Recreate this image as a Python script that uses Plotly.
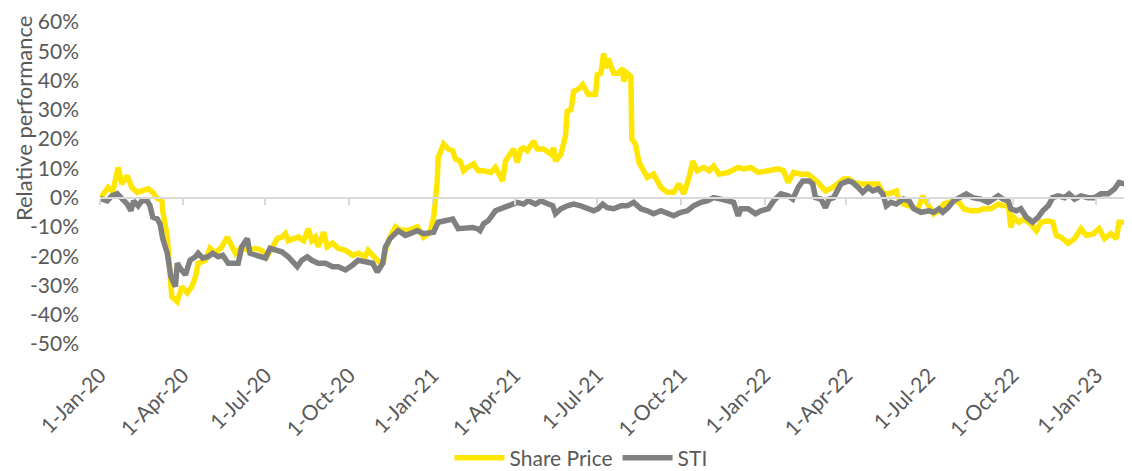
import plotly.graph_objects as go

# ---- Data (relative performance, %) ----
share_dates = [
    "2020-01-01","2020-01-03","2020-01-10","2020-01-15","2020-01-21","2020-01-25","2020-01-31","2020-02-05",
    "2020-02-11","2020-02-16","2020-02-23","2020-02-28","2020-03-04","2020-03-09","2020-03-10","2020-03-15",
    "2020-03-18","2020-03-20","2020-03-26","2020-03-31","2020-04-06","2020-04-11","2020-04-15","2020-04-18",
    "2020-04-26","2020-05-01","2020-05-07","2020-05-14","2020-05-20","2020-05-25","2020-05-29","2020-06-05",
    "2020-06-12","2020-06-20","2020-06-27","2020-07-03","2020-07-08","2020-07-14","2020-07-19","2020-07-23",
    "2020-07-26","2020-08-03","2020-08-06","2020-08-12","2020-08-17","2020-08-21","2020-08-25","2020-08-28",
    "2020-09-03","2020-09-07","2020-09-13","2020-09-19","2020-09-27","2020-10-05","2020-10-11","2020-10-19",
    "2020-10-22","2020-10-30","2020-11-07","2020-11-10","2020-11-15","2020-11-21","2020-11-26","2020-12-04",
    "2020-12-15","2020-12-22","2020-12-29","2021-01-02","2021-01-06","2021-01-07","2021-01-13","2021-01-18",
    "2021-01-23","2021-01-26","2021-01-31","2021-02-04","2021-02-08","2021-02-15","2021-02-20","2021-02-26",
    "2021-03-06","2021-03-11","2021-03-14","2021-03-19","2021-03-22","2021-03-28","2021-03-31","2021-04-04",
    "2021-04-08","2021-04-11","2021-04-15","2021-04-22","2021-04-26","2021-05-03","2021-05-11","2021-05-14",
    "2021-05-16","2021-05-22","2021-05-24","2021-05-27","2021-05-29","2021-06-02","2021-06-05","2021-06-10",
    "2021-06-15","2021-06-18","2021-06-21","2021-06-29","2021-07-01","2021-07-05","2021-07-08","2021-07-10",
    "2021-07-13","2021-07-19","2021-07-24","2021-07-29","2021-07-30","2021-08-03","2021-08-07","2021-08-08",
    "2021-08-12","2021-08-16","2021-08-21","2021-08-25","2021-09-01","2021-09-09","2021-09-16","2021-09-23",
    "2021-09-29","2021-10-04","2021-10-10","2021-10-14","2021-10-19","2021-10-26","2021-11-01","2021-11-06",
    "2021-11-12","2021-11-22","2021-12-03","2021-12-09","2021-12-17","2021-12-25","2022-01-05","2022-01-16",
    "2022-01-22","2022-01-27","2022-02-02","2022-02-10","2022-02-18","2022-02-23","2022-03-01","2022-03-04",
    "2022-03-09","2022-03-17","2022-03-24","2022-03-29","2022-04-04","2022-04-09","2022-04-17","2022-04-28",
    "2022-05-06","2022-05-11","2022-05-18","2022-05-26","2022-05-28","2022-06-03","2022-06-11","2022-06-19",
    "2022-06-24","2022-06-30","2022-07-06","2022-07-12","2022-07-17","2022-07-23","2022-07-28","2022-08-03",
    "2022-08-08","2022-08-16","2022-08-24","2022-08-30","2022-09-07","2022-09-15","2022-09-20","2022-09-26",
    "2022-09-29","2022-10-02","2022-10-08","2022-10-13","2022-10-21","2022-10-27","2022-11-01","2022-11-09",
    "2022-11-14","2022-11-18","2022-11-23","2022-12-01","2022-12-08","2022-12-15","2022-12-21","2022-12-29",
    "2023-01-04","2023-01-10","2023-01-17","2023-01-23","2023-01-26","2023-02-03","2023-02-06",
]
share_values = [
    0.0, 0.5, 3.5, 2.0, 10.3, 4.7, 7.5, 3.5,
    1.8, 2.3, 3.0, 1.8, -0.3, -1.0, -4.5, -13.5,
    -27.0, -33.8, -35.5, -30.4, -32.5, -30.4, -27.0, -22.4,
    -21.4, -17.3, -19.0, -16.8, -13.5, -16.8, -19.0, -16.8,
    -18.0, -17.3, -18.0, -20.0, -17.3, -14.0, -13.5, -12.3,
    -14.7, -14.0, -13.5, -14.7, -10.6, -14.7, -13.5, -16.8,
    -11.8, -16.8, -15.6, -17.3, -18.0, -19.7, -19.0, -20.0,
    -18.0, -20.7, -23.0, -18.0, -13.5, -10.0, -11.0, -11.3,
    -10.0, -13.5, -12.0, -6.7, 5.7, 13.7, 18.3, 16.6,
    16.0, 13.2, 12.5, 9.2, 10.3, 11.5, 9.2, 9.2,
    8.6, 10.3, 8.6, 5.7, 12.5, 14.8, 16.6, 12.0,
    16.6, 17.0, 16.0, 19.3, 16.6, 16.6, 14.8, 17.0,
    12.5, 14.8, 18.3, 21.0, 29.5, 30.0, 36.3, 37.0,
    38.6, 37.0, 35.3, 35.3, 42.0, 42.5, 49.3, 44.2,
    47.5, 42.5, 42.5, 44.2, 39.7, 42.5, 41.4, 20.0,
    18.3, 12.0, 8.6, 6.9, 8.0, 3.5, 1.8, 1.8,
    4.7, 1.3, 6.9, 12.5, 9.2, 10.3, 9.2, 10.8,
    8.0, 8.6, 10.3, 9.8, 10.3, 8.6, 9.2, 9.8,
    9.2, 5.2, 8.6, 8.0, 8.0, 6.9, 5.2, 4.0,
    2.3, 3.5, 5.2, 6.4, 6.4, 5.2, 4.7, 4.7,
    4.7, 1.8, 1.3, 2.3, 0.0, -2.2, -2.8, -3.8,
    0.6, -2.2, -5.5, -4.5, -2.2, -1.6, -1.1, -1.6,
    -3.8, -4.5, -4.5, -3.8, -3.8, -2.2, -2.8, -2.2,
    -10.2, -6.7, -8.4, -7.3, -9.0, -11.3, -8.4, -7.9,
    -8.4, -12.9, -13.5, -15.6, -14.0, -10.6, -12.9, -12.3,
    -10.6, -14.0, -12.3, -14.0, -8.4, -8.4, -9.6,
]

sti_dates = [
    "2020-01-01","2020-01-03","2020-01-09","2020-01-14","2020-01-20","2020-01-25","2020-01-31","2020-02-04",
    "2020-02-07","2020-02-12","2020-02-16","2020-02-22","2020-02-25","2020-02-28","2020-03-04","2020-03-07",
    "2020-03-10","2020-03-15","2020-03-19","2020-03-24","2020-03-26","2020-03-29","2020-04-04","2020-04-09",
    "2020-04-15","2020-04-18","2020-04-23","2020-04-29","2020-05-04","2020-05-10","2020-05-15","2020-05-21",
    "2020-05-26","2020-06-01","2020-06-05","2020-06-11","2020-06-14","2020-06-20","2020-06-25","2020-07-01",
    "2020-07-06","2020-07-12","2020-07-19","2020-07-26","2020-08-05","2020-08-10","2020-08-16","2020-08-21",
    "2020-08-28","2020-09-05","2020-09-13","2020-09-19","2020-09-27","2020-10-05","2020-10-11","2020-10-19",
    "2020-10-27","2020-11-01","2020-11-07","2020-11-10","2020-11-15","2020-11-24","2020-12-02","2020-12-07",
    "2020-12-15","2020-12-22","2021-01-02","2021-01-07","2021-01-15","2021-01-23","2021-01-29","2021-02-06",
    "2021-02-14","2021-02-19","2021-02-22","2021-02-26","2021-03-03","2021-03-11","2021-03-19","2021-03-25",
    "2021-04-04","2021-04-11","2021-04-16","2021-04-24","2021-04-30","2021-05-07","2021-05-13","2021-05-16",
    "2021-05-22","2021-05-29","2021-06-05","2021-06-13","2021-06-20","2021-06-27","2021-07-02","2021-07-07",
    "2021-07-12","2021-07-19","2021-07-27","2021-08-03","2021-08-10","2021-08-18","2021-08-25","2021-09-01",
    "2021-09-09","2021-09-16","2021-09-23","2021-10-01","2021-10-08","2021-10-15","2021-10-23","2021-10-30",
    "2021-11-06","2021-11-14","2021-11-23","2021-11-28","2021-12-03","2021-12-06","2021-12-14","2021-12-22",
    "2021-12-28","2022-01-05","2022-01-11","2022-01-19","2022-01-27","2022-02-01","2022-02-07","2022-02-12",
    "2022-02-19","2022-02-23","2022-02-26","2022-03-04","2022-03-09","2022-03-13","2022-03-18","2022-03-26",
    "2022-04-03","2022-04-08","2022-04-14","2022-04-19","2022-04-25","2022-04-30","2022-05-06","2022-05-11",
    "2022-05-15","2022-05-20","2022-05-26","2022-06-03","2022-06-09","2022-06-14","2022-06-22","2022-07-01",
    "2022-07-06","2022-07-12","2022-07-16","2022-07-22","2022-07-28","2022-08-05","2022-08-11","2022-08-18",
    "2022-08-27","2022-09-04","2022-09-09","2022-09-15","2022-09-20","2022-09-26","2022-09-29","2022-10-05",
    "2022-10-10","2022-10-16","2022-10-23","2022-10-29","2022-11-03","2022-11-09","2022-11-14","2022-11-20",
    "2022-11-27","2022-12-02","2022-12-08","2022-12-15","2022-12-23","2022-12-30","2023-01-06","2023-01-14",
    "2023-01-21","2023-01-26","2023-02-01","2023-02-06",
]
sti_values = [
    0.0, -0.5, -1.1, 0.6, 1.3, -0.5, -2.2, -4.5,
    -1.1, -2.8, -1.1, -1.1, -2.8, -6.7, -7.3, -9.0,
    -14.0, -19.0, -27.0, -30.4, -22.4, -24.0, -26.4, -21.4,
    -20.2, -19.0, -20.7, -20.2, -19.0, -20.2, -19.7, -22.4,
    -22.4, -22.4, -16.8, -14.0, -19.0, -19.7, -20.2, -20.7,
    -17.3, -18.0, -18.5, -20.2, -23.6, -21.4, -20.2, -21.4,
    -22.4, -22.4, -23.6, -23.6, -24.7, -23.0, -21.4, -21.9,
    -22.4, -25.4, -22.4, -16.8, -14.0, -11.3, -12.9, -12.3,
    -11.3, -12.3, -11.8, -8.4, -7.9, -7.3, -10.6, -10.2,
    -10.2, -10.6, -11.3, -8.9, -7.9, -4.5, -3.8, -2.8,
    -1.6, -2.2, -1.1, -2.2, -1.1, -2.2, -2.8, -5.5,
    -3.8, -2.8, -2.2, -2.8, -3.8, -4.5, -3.8, -2.2,
    -3.4, -3.8, -2.8, -2.8, -1.6, -3.8, -4.5, -5.5,
    -4.5, -5.5, -6.2, -5.0, -4.5, -2.8, -1.6, -1.1,
    0.0, -0.5, -1.1, -1.6, -6.2, -3.8, -3.8, -5.5,
    -4.5, -3.8, -1.1, 1.3, 0.6, -0.5, 3.5, 5.7,
    5.7, 4.7, 0.0, -0.5, -3.4, -0.5, 0.0, 4.7,
    5.7, 5.2, 3.5, 1.8, 3.5, 2.3, 3.0, 1.3,
    -2.8, -1.6, -2.2, -0.5, -1.1, -3.8, -5.0, -4.5,
    -5.0, -3.8, -5.0, -3.4, -1.1, 0.0, 1.3, 0.0,
    -0.5, -1.6, -0.5, 0.6, -0.5, -1.1, -3.8, -4.5,
    -3.8, -6.7, -8.4, -6.7, -4.5, -2.8, 0.0, 0.6,
    0.0, 1.3, -0.5, 0.6, 0.0, 0.0, 1.3, 1.3,
    3.0, 5.2, 4.7, 4.7,
]

tick_dates = [
    "2020-01-01","2020-04-01","2020-07-01","2020-10-01",
    "2021-01-01","2021-04-01","2021-07-01","2021-10-01",
    "2022-01-01","2022-04-01","2022-07-01","2022-10-01","2023-01-01",
]
y_ticks = [-50, -40, -30, -20, -10, 0, 10, 20, 30, 40, 50, 60]
x_range = ["2020-01-01", "2023-02-07"]
y_range = [-50, 60]

YELLOW = "#FFE600"
GREY = "#808080"
TEXT = "#595959"
AXIS = "#D9D9D9"
FONT = "Lato, Carlito, Calibri, sans-serif"
FS = 21

fig = go.Figure()
fig.add_trace(go.Scatter(
    x=share_dates, y=share_values, name="Share Price", xaxis="x", yaxis="y",
    mode="lines", line=dict(color=YELLOW, width=5.5),
))
fig.add_trace(go.Scatter(
    x=sti_dates, y=sti_values, name="STI", xaxis="x2", yaxis="y",
    mode="lines", line=dict(color=GREY, width=5.5),
))

zero_pos = (0 - y_range[0]) / (y_range[1] - y_range[0])

# the page body has an 8px margin, so the figure is sized to the visible area
fig.update_layout(
    width=1124, height=463,
    margin=dict(l=92, r=2, t=14, b=127, autoexpand=False),
    paper_bgcolor="white", plot_bgcolor="white",
    font=dict(family=FONT, size=FS, color=TEXT),
    showlegend=True,
    legend=dict(orientation="h", x=0.467, xanchor="center", y=-0.354, yanchor="middle",
                itemwidth=50, font=dict(family=FONT, size=FS, color=TEXT)),
    xaxis=dict(
        type="date", range=x_range, tickmode="array", tickvals=tick_dates,
        tickformat="%-d-%b-%y", tickangle=-45, showgrid=False, showline=False,
        zeroline=False, ticks="", automargin=False, ticklabelstandoff=14,
        ticklabeloverflow="allow",
        tickfont=dict(family=FONT, size=FS, color=TEXT),
    ),
    xaxis2=dict(
        type="date", range=x_range, overlaying="x", anchor="free", position=zero_pos,
        tickmode="array", tickvals=tick_dates, showticklabels=False, automargin=False,
        showline=True, linecolor=AXIS, linewidth=2, ticks="outside", ticklen=6,
        tickcolor=AXIS, tickwidth=2, showgrid=False, zeroline=False,
    ),
    yaxis=dict(
        range=y_range, tickmode="array", tickvals=y_ticks,
        ticktext=[f"{v}%" for v in y_ticks],
        showgrid=False, showline=False, zeroline=True, zerolinecolor=AXIS, zerolinewidth=2,
        ticks="", automargin=False, ticklabelstandoff=20, ticklabeloverflow="allow",
        tickfont=dict(family=FONT, size=FS, color=TEXT),
    ),
    annotations=[dict(
        text="Relative performance", textangle=-90, showarrow=False,
        xref="paper", yref="paper", x=-0.0893, y=0.70, xanchor="left", yanchor="middle",
        font=dict(family=FONT, size=FS + 1, color=TEXT),
    )],
)

fig.write_html("out.html")
